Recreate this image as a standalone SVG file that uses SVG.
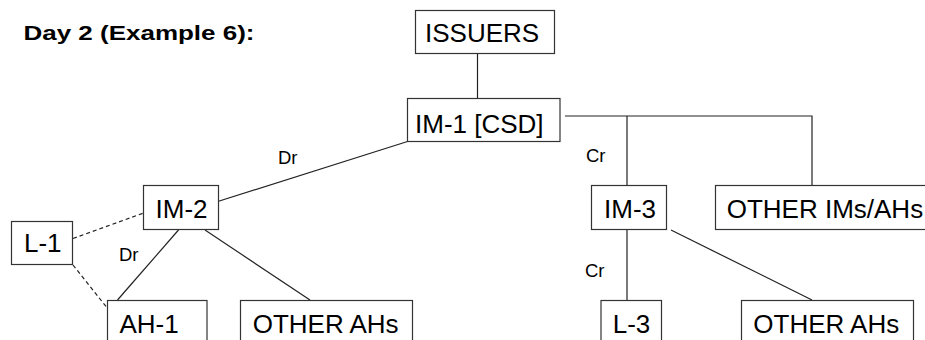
<svg xmlns="http://www.w3.org/2000/svg" width="925" height="340" viewBox="0 0 925 340">
<style>
.box{fill:#fff;stroke:#333;stroke-width:1.2}
.t{font-family:"Liberation Sans",Arial,sans-serif;font-size:26px;fill:#000}
.lbl{font-family:"Liberation Sans",Arial,sans-serif;font-size:18.5px;fill:#000}
.title{font-family:"Liberation Sans",Arial,sans-serif;font-size:21px;font-weight:bold;fill:#000}
.ln{stroke:#222;stroke-width:1.2;fill:none}
.dash{stroke:#222;stroke-width:1.2;fill:none;stroke-dasharray:4 3}
</style>
<rect width="925" height="340" fill="#fff"/>
<text class="title" x="23.5" y="39.5" textLength="231" lengthAdjust="spacingAndGlyphs">Day 2 (Example 6):</text>
<g id="connectors">
<line class="ln" x1="477.5" y1="53" x2="477.5" y2="98"/>
<polyline class="ln" points="565,116 812,116 812,185"/>
<line class="ln" x1="627" y1="116" x2="627" y2="185"/>
<line class="ln" x1="407.5" y1="141.5" x2="213" y2="203"/>
<line class="ln" x1="178.5" y1="230" x2="117.5" y2="300"/>
<line class="ln" x1="205" y1="230" x2="310" y2="300"/>
<line class="ln" x1="627" y1="229.5" x2="627" y2="300"/>
<line class="ln" x1="671" y1="230" x2="812" y2="300"/>
<line class="dash" x1="73" y1="238.5" x2="143.5" y2="213"/>
<line class="dash" x1="73" y1="265" x2="108" y2="309"/>
<text class="lbl" x="278" y="163.5">Dr</text>
<text class="lbl" x="586" y="162">Cr</text>
<text class="lbl" x="119" y="261">Dr</text>
<text class="lbl" x="585" y="276.5">Cr</text>
</g>
<g id="issuers"><rect class="box" x="415.5" y="10.5" width="139" height="43"/><text class="t" x="425" y="42.3">ISSUERS</text></g>
<g id="im1"><rect class="box" x="407.5" y="98.5" width="152.5" height="43"/><text class="t" x="415" y="133">IM-1 [CSD]</text></g>
<g id="im2"><rect class="box" x="143.5" y="185.5" width="75" height="44"/><text class="t" x="155.5" y="218.3">IM-2</text></g>
<g id="im3"><rect class="box" x="591.5" y="185.5" width="75" height="44"/><text class="t" x="604" y="218.3">IM-3</text></g>
<g id="otherims"><rect class="box" x="715.5" y="185.5" width="230" height="44"/><text class="t" x="726.7" y="218.3">OTHER IMs/AHs</text></g>
<g id="l1"><rect class="box" x="11.5" y="221.5" width="61" height="43"/><text class="t" x="24" y="251.7">L-1</text></g>
<g id="ah1"><rect class="box" x="107.5" y="300.5" width="99.5" height="60"/><text class="t" x="119.5" y="332.7">AH-1</text></g>
<g id="otherahs1"><rect class="box" x="240.5" y="300.5" width="172" height="60"/><text class="t" x="252.7" y="332.7">OTHER AHs</text></g>
<g id="l3"><rect class="box" x="601" y="300.5" width="60.5" height="60"/><text class="t" x="612.7" y="332.7">L-3</text></g>
<g id="otherahs2"><rect class="box" x="741.5" y="300.5" width="172" height="60"/><text class="t" x="753.3" y="332.7">OTHER AHs</text></g>
</svg>
